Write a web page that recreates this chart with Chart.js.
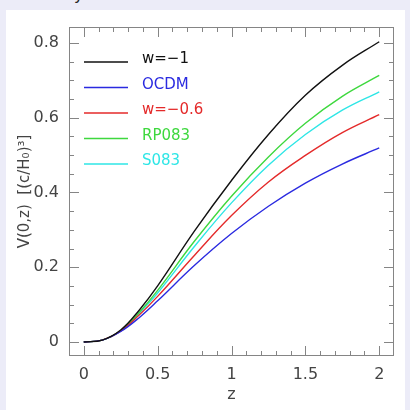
<!DOCTYPE html>
<html>
<head>
<meta charset="utf-8">
<script src="https://cdn.jsdelivr.net/npm/chart.js@4.4.0/dist/chart.umd.min.js"></script>
<style>
  html, body { margin: 0; padding: 0; background: #ececf8; width: 410px; height: 410px; overflow: hidden; }
  #panel { position: absolute; left: 6px; top: 10px; width: 399px; height: 400px; background: #fff; }
  #cut { position: absolute; left: 74px; top: -13px; font: 16px "DejaVu Sans"; line-height: 16px; color: #222; }
  #wrap { position: absolute; left: 0; top: 0; width: 410px; height: 410px; }
</style>
</head>
<body>
<div id="panel"></div>
<div id="cut">y</div>
<div id="wrap"><canvas id="volChart" width="410" height="410"></canvas></div>
<script>
// values
var zValues = [0, 0.125, 0.25, 0.375, 0.5, 0.75, 1, 1.25, 1.5, 1.75, 2];
var vLambda = [0, 0.005, 0.032, 0.085, 0.150, 0.297, 0.432, 0.555, 0.660, 0.740, 0.803];
var vOCDM   = [0, 0.005, 0.028, 0.065, 0.110, 0.205, 0.290, 0.363, 0.425, 0.476, 0.519];
var vW06    = [0, 0.005, 0.029, 0.072, 0.122, 0.232, 0.338, 0.428, 0.499, 0.560, 0.608];
var vRP083  = [0, 0.005, 0.030, 0.079, 0.138, 0.270, 0.390, 0.495, 0.585, 0.657, 0.713];
var vS083   = [0, 0.005, 0.030, 0.077, 0.131, 0.256, 0.372, 0.473, 0.555, 0.620, 0.669];

var seriesNames  = ['w=\u22121', 'OCDM', 'w=\u22120.6', 'RP083', 'S083'];
var seriesColors = ['#111111', '#2a2ae0', '#e42a2a', '#3ed83e', '#2ee6e6'];
var xTickValues = [0, 0.5, 1, 1.5, 2];
var yTickValues = [0, 0.2, 0.4, 0.6, 0.8];

function toPoints(vals) {
  return zValues.map(function (z, i) { return { x: z, y: vals[i] }; });
}

var allSeries = [vLambda, vOCDM, vW06, vRP083, vS083];

// frame, inward ticks on all sides, and the in-plot legend
var framePlugin = {
  id: 'frameTicks',
  beforeDatasetsDraw: function (chart) {
    var ctx = chart.ctx, a = chart.chartArea;
    var xs = chart.scales.x, ys = chart.scales.y;
    ctx.save();
    ctx.strokeStyle = '#858585';
    ctx.lineWidth = 1;
    ctx.strokeRect(a.left + 0.5, a.top + 0.5, a.right - a.left - 1, a.bottom - a.top - 1);
    ctx.beginPath();
    for (var i = 0; i <= 20; i++) {
      var px = Math.round(xs.getPixelForValue(i / 10)) + 0.5;
      var len = (i % 5 === 0) ? 10 : 5;
      ctx.moveTo(px, a.bottom); ctx.lineTo(px, a.bottom - len);
      ctx.moveTo(px, a.top); ctx.lineTo(px, a.top + len);
    }
    for (var j = 0; j <= 16; j++) {
      var py = Math.round(ys.getPixelForValue(j * 0.05)) + 0.5;
      var len2 = (j % 4 === 0) ? 10 : 5;
      ctx.moveTo(a.left, py); ctx.lineTo(a.left + len2, py);
      ctx.moveTo(a.right, py); ctx.lineTo(a.right - len2, py);
    }
    ctx.stroke();
    ctx.restore();
  },
  afterDatasetsDraw: function (chart) {
    var ctx = chart.ctx;
    ctx.save();
    ctx.font = '15px "DejaVu Sans"';
    ctx.textBaseline = 'alphabetic';
    chart.data.datasets.forEach(function (ds, i) {
      var y = 62 + i * 25.5;
      ctx.strokeStyle = ds.borderColor;
      ctx.lineWidth = 1.3;
      ctx.beginPath();
      ctx.moveTo(84, y); ctx.lineTo(128, y);
      ctx.stroke();
      ctx.fillStyle = ds.borderColor;
      ctx.fillText(ds.label, 142, y + 1);
    });
    ctx.restore();
  }
};

var ctx = document.getElementById('volChart').getContext('2d');
var chart = new Chart(ctx, {
  type: 'line',
  data: {
    datasets: allSeries.map(function (vals, i) {
      return {
        label: seriesNames[i],
        data: toPoints(vals),
        borderColor: seriesColors[i],
        borderWidth: 1.4,
        pointRadius: 0,
        fill: false,
        tension: 0.4
      };
    })
  },
  options: {
    responsive: false,
    devicePixelRatio: 1,
    animation: false,
    layout: { padding: { top: 27, right: 16, left: 0, bottom: 0 } },
    plugins: { legend: { display: false }, tooltip: { enabled: false } },
    scales: {
      x: {
        type: 'linear',
        min: -0.1,
        max: 2.1,
        grid: { display: false, drawTicks: false },
        border: { display: false },
        afterBuildTicks: function (scale) {
          scale.ticks = xTickValues.map(function (v) { return { value: v }; });
        },
        afterFit: function (scale) { scale.height = 54; },
        ticks: {
          padding: 9,
          color: '#444',
          font: { family: 'DejaVu Sans', size: 16 },
          maxRotation: 0,
          callback: function (v) { return String(v); }
        },
        title: {
          display: true,
          text: 'z',
          color: '#444',
          font: { family: 'DejaVu Sans', size: 16 },
          padding: { top: 0, bottom: 6 }
        }
      },
      y: {
        type: 'linear',
        min: -0.0375,
        max: 0.8425,
        grid: { display: false, drawTicks: false },
        border: { display: false },
        afterBuildTicks: function (scale) {
          scale.ticks = yTickValues.map(function (v) { return { value: v }; });
        },
        afterFit: function (scale) { scale.width = 69; },
        ticks: {
          padding: 10,
          color: '#444',
          font: { family: 'DejaVu Sans', size: 16 },
          callback: function (v) { return String(v); }
        },
        title: {
          display: true,
          text: 'V(0,z)  [(c/H\u2080)\u00b3]',
          color: '#444',
          font: { family: 'DejaVu Sans', size: 15 },
          padding: { top: 16, bottom: 0 }
        }
      }
    }
  },
  plugins: [framePlugin]
});
</script>
</body>
</html>
